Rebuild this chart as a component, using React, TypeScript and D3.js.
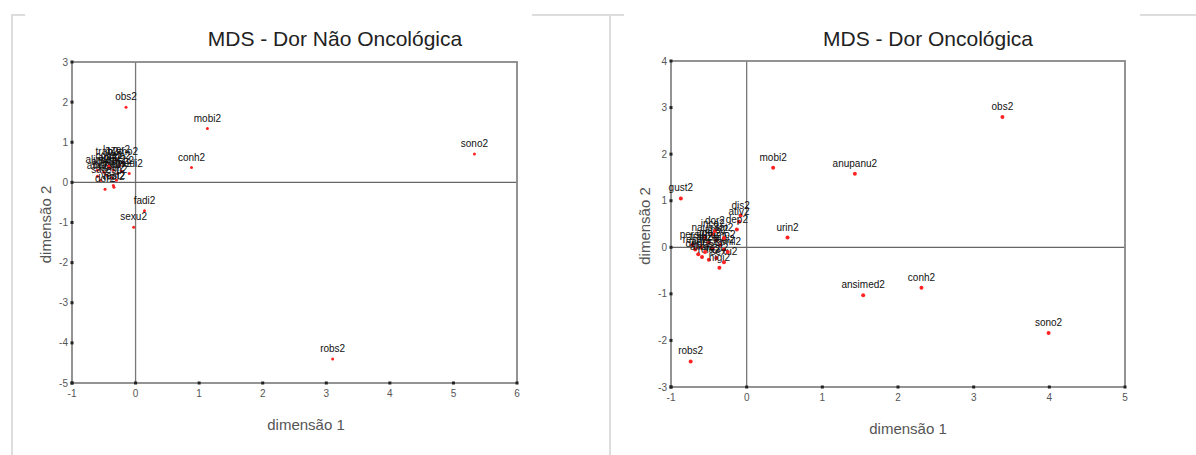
import * as d3 from 'd3';

// MDS coordinates
const naoLabels = [
  'obs2', 'mobi2', 'sono2', 'conh2', 'fadi2', 'sexu2', 'robs2',
  'trab2', 'lazer2', 'humo2', 'rela2', 'alim2', 'ansi2', 'depr2', 'apet2',
  'naus2', 'conc2', 'ativ2', 'famil2', 'resp2', 'medi2', 'sat2', 'dor2',
  'vest2', 'higi2', 'cons2', 'esp2',
];
const naoX = [
  -0.15, 1.13, 5.33, 0.88, 0.14, -0.03, 3.1,
  -0.45, -0.3, -0.2, -0.25, -0.6, -0.4, -0.35, -0.5,
  -0.28, -0.45, -0.6, -0.38, -0.22, -0.1, -0.55, -0.48,
  -0.35, -0.34, -0.42, -0.3,
];
const naoY = [
  1.87, 1.34, 0.71, 0.37, -0.71, -1.12, -4.4,
  0.5, 0.55, 0.5, 0.42, 0.3, 0.35, 0.3, 0.25,
  0.22, 0.18, 0.15, 0.12, 0.28, 0.22, 0.05, -0.17,
  -0.08, -0.12, 0.4, 0.05,
];

const oncoLabels = [
  'obs2', 'mobi2', 'anupanu2', 'gust2', 'urin2', 'ansimed2', 'conh2', 'sono2', 'robs2',
  'dis2', 'ativ2', 'dep2',
  'inco2', 'pers2', 'resp2', 'naus2', 'apet2', 'ansi2', 'humo2', 'fadi2', 'trab2',
  'lazer2', 'depr2', 'alim2', 'rela2', 'vest2', 'higi2', 'sexu2', 'famil2', 'conc2',
  'dor2', 'sat2',
];
const oncoX = [
  3.38, 0.35, 1.43, -0.87, 0.54, 1.54, 2.31, 3.99, -0.74,
  -0.08, -0.1, -0.13,
  -0.45, -0.72, -0.68, -0.55, -0.5, -0.4, -0.35, -0.3, -0.6,
  -0.45, -0.64, -0.59, -0.5, -0.4, -0.36, -0.3, -0.25, -0.55,
  -0.42, -0.3,
];
const oncoY = [
  2.8, 1.71, 1.58, 1.05, 0.21, -1.03, -0.87, -1.84, -2.45,
  0.68, 0.55, 0.38,
  0.28, 0.05, -0.05, 0.2, 0.1, 0.15, 0.05, -0.05, 0.0,
  -0.02, -0.15, -0.21, -0.27, -0.23, -0.44, -0.32, -0.1, -0.1,
  0.35, 0.2,
];

const naoXTicks = [-1, 0, 1, 2, 3, 4, 5, 6];
const naoYTicks = [3, 2, 1, 0, -1, -2, -3, -4, -5];
const oncoXTicks = [-1, 0, 1, 2, 3, 4, 5];
const oncoYTicks = [4, 3, 2, 1, 0, -1, -2, -3];

const FONT = '"Liberation Sans", Arial, sans-serif';

interface PanelProps {
  title: string;
  titleX: number;
  labels: string[];
  xs: number[];
  ys: number[];
  xTicks: number[];
  yTicks: number[];
  xRange: [number, number];
  yRange: [number, number];
  yLabelX: number;
  xLabelX: number;
  xLabelY: number;
  r: number;
}

function Panel(p: PanelProps) {
  const x = d3.scaleLinear().domain(d3.extent(p.xTicks) as [number, number]).range(p.xRange);
  const y = d3.scaleLinear().domain(d3.extent(p.yTicks) as [number, number]).range(p.yRange);
  const [x0, x1] = p.xRange;
  const [y0, y1] = p.yRange; // y0 bottom, y1 top
  const pts = p.labels.map((l, i) => ({ l, x: p.xs[i], y: p.ys[i] }));

  return (
    <g fontFamily={FONT}>
      <text x={p.titleX} y={46} textAnchor="middle" fontSize={21} fill="#222">{p.title}</text>

      {/* reference lines at zero */}
      <line x1={x(0)} x2={x(0)} y1={y1} y2={y0} stroke="#777" strokeWidth={1.3} />
      <line x1={x0} x2={x1} y1={y(0)} y2={y(0)} stroke="#666" strokeWidth={1.3} />

      {/* frame */}
      <rect x={x0} y={y1} width={x1 - x0} height={y0 - y1} fill="none" stroke="#888" strokeWidth={1.8} />

      {p.yTicks.map(t => (
        <g key={'y' + t}>
          <rect x={x0 - 1.5} y={y(t) - 1.5} width={3} height={3} fill="#222" />
          <text x={x0 - 4} y={y(t) + 3.5} textAnchor="end" fontSize={10} fill="#555">{t}</text>
        </g>
      ))}
      {p.xTicks.map(t => (
        <g key={'x' + t}>
          <rect x={x(t) - 1.5} y={y0 - 1.5} width={3} height={3} fill="#222" />
          <text x={x(t)} y={y0 + 14} textAnchor="middle" fontSize={10} fill="#555">{t}</text>
        </g>
      ))}

      {pts.map(d => (
        <g key={d.l}>
          <circle cx={x(d.x)} cy={y(d.y)} r={p.r} fill="#f22" />
          <text x={x(d.x)} y={y(d.y) - 7} textAnchor="middle" fontSize={10} fill="#111">{d.l}</text>
        </g>
      ))}

      <text x={p.xLabelX} y={p.xLabelY} textAnchor="middle" fontSize={15} fill="#555">dimensão 1</text>
      <text transform={`translate(${p.yLabelX},${(y0 + y1) / 2 + 2}) rotate(-90)`} textAnchor="middle" fontSize={15} fill="#555">dimensão 2</text>
    </g>
  );
}

export default function App() {
  return (
    <svg width={1196} height={455} style={{ position: 'absolute', left: 0, top: 0, background: '#fff' }}>
      {/* page borders */}
      <g stroke="#ddd" strokeWidth={2} fill="none">
        <path d="M12,455 V15 H25" />
        <path d="M532,15 H600" />
        <path d="M610,455 V15" />
        <path d="M600,15 H624" />
        <path d="M1140,15 H1196" />
      </g>
      <Panel
        title="MDS - Dor Não Oncológica"
        titleX={335}
        labels={naoLabels}
        xs={naoX}
        ys={naoY}
        xTicks={naoXTicks}
        yTicks={naoYTicks}
        xRange={[72, 517]}
        yRange={[383, 62]}
        yLabelX={51}
        xLabelX={306}
        xLabelY={430}
        r={1.5}
      />
      <Panel
        title="MDS - Dor Oncológica"
        titleX={928}
        labels={oncoLabels}
        xs={oncoX}
        ys={oncoY}
        xTicks={oncoXTicks}
        yTicks={oncoYTicks}
        xRange={[671, 1125]}
        yRange={[387, 61]}
        yLabelX={650}
        xLabelX={908}
        xLabelY={434}
        r={2}
      />
    </svg>
  );
}
